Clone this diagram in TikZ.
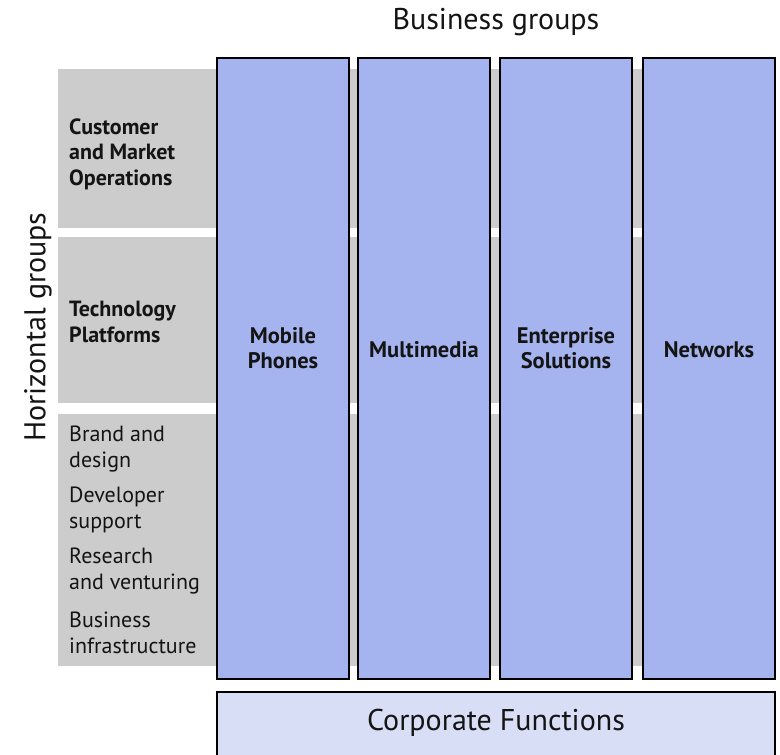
\documentclass[tikz,border=0pt]{standalone}
\usepackage{fontspec}
\setmainfont{PT Sans}
\definecolor{bandgray}{RGB}{204,204,204}
\definecolor{colblue}{RGB}{165,180,238}
\definecolor{corpblue}{RGB}{215,222,246}
\definecolor{ink}{RGB}{20,20,20}
\begin{document}
\begin{tikzpicture}[x=1pt,y=-1pt,
  band/.style={fill=bandgray,draw=none},
  bgcol/.style={fill=colblue,draw=black,line width=1.5pt},
  corp/.style={fill=corpblue,draw=black,line width=1.5pt},
  bigtxt/.style={text=ink,font=\fontsize{30}{36}\selectfont,inner sep=0pt},
  boldlab/.style={text=ink,font=\fontsize{22}{25.5}\selectfont\bfseries,align=left,inner sep=0pt,anchor=west},
  reglab/.style={text=ink,font=\fontsize{22}{26}\selectfont,align=left,inner sep=0pt,anchor=west},
  collab/.style={text=ink,font=\fontsize{22.5}{25.5}\selectfont\bfseries,align=center,inner sep=0pt}]
\clip (0,0) rectangle (780,755);
\useasboundingbox (0,0) rectangle (780,755);
\fill[white] (0,0) rectangle (780,755);
% horizontal bands
\path[band] (58,69) rectangle (775,228);
\path[band] (58,237) rectangle (775,403);
\path[band] (58,414) rectangle (775,666);
% columns
\path[bgcol] (217,58) rectangle (349,679);
\path[bgcol] (358,58) rectangle (490,679);
\path[bgcol] (500,58) rectangle (632,679);
\path[bgcol] (643,58) rectangle (775,679);
% corporate
\path[corp] (217,692) rectangle (775,760);
% texts
\node[bigtxt] (bg) at (496,22) {Business groups};
\node[bigtxt,rotate=90] (hg) at (38,327) {Horizontal groups};
\node[bigtxt] (cf) at (496,723) {Corporate Functions};
\node[boldlab] (cmo) at (69,154) {Customer\\and Market\\Operations};
\node[boldlab] (tp) at (69,322) {Technology\\Platforms};
\node[reglab] (bd) at (69,449) {Brand and\\design};
\node[reglab] (ds) at (69,510) {Developer\\support};
\node[reglab] (rv) at (69,571) {Research\\and venturing};
\node[reglab] (bi) at (69,633) {Business\\infrastructure};
\node[collab] (mp) at (283,348) {Mobile\\Phones};
\node[collab] (mm) at (424,350) {Multimedia};
\node[collab] (es) at (566,348) {Enterprise\\Solutions};
\node[collab] (nw) at (709,350) {Networks};
\end{tikzpicture}
\end{document}
